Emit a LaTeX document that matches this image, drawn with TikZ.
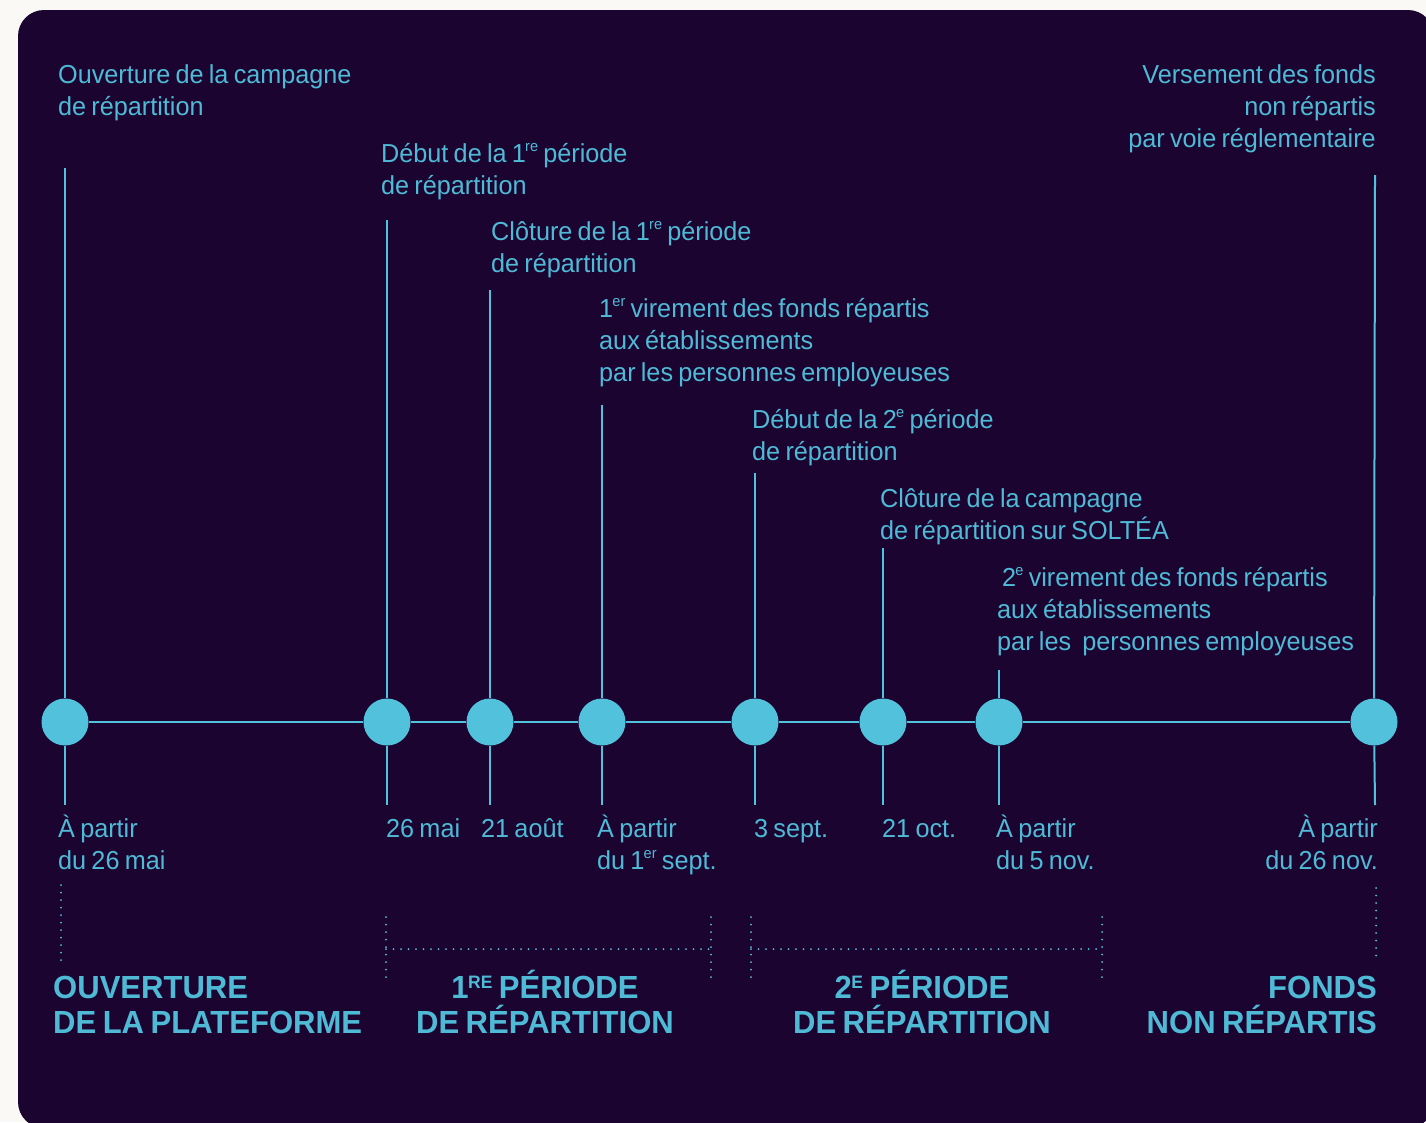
\documentclass[tikz,border=0pt]{standalone}
\usepackage{fontspec}
\setmainfont{Liberation Sans}[FakeStretch=0.97, WordSpace=0.75]
\definecolor{outerc}{HTML}{FAF9F5}
\definecolor{bgc}{HTML}{1B0430}
\definecolor{cyanc}{HTML}{52C1DB}
\definecolor{txtc}{HTML}{4FBAD6}
\newcommand\supx[1]{\kern-0.8pt\raisebox{10.5pt}{\fontsize{15}{15}\selectfont #1}}
\newcommand\supb[1]{\kern-0.5pt\raisebox{10pt}{\fontsize{18}{18}\selectfont #1}}
\tikzset{
  lbl/.style={text=txtc, font=\fontsize{26}{32}\selectfont, inner sep=0pt, align=left, anchor=base west},
  lblr/.style={lbl, align=right, anchor=base east},
  head/.style={text=txtc, font=\fontsize{32}{35}\selectfont\bfseries, inner sep=0pt},
  tick/.style={draw=cyanc, line width=2pt},
  axis/.style={draw=cyanc, line width=2.5pt},
  dotline/.style={draw=cyanc, line width=2pt, line cap=round, dash pattern=on 0pt off 7.5pt},
  dotnode/.style={circle, fill=cyanc, minimum size=47pt, inner sep=0pt}
}
\begin{document}
\begin{tikzpicture}[x=1pt,y=-1pt]
\useasboundingbox (0,0) rectangle (1426,1122);
\fill[outerc] (0,0) rectangle (1426,1122);
\fill[bgc, rounded corners=26pt] (18,10) rectangle (1434,1128);

% event dots
\node[dotnode] (c1) at (65,722) {};
\node[dotnode] (c2) at (387,722) {};
\node[dotnode] (c3) at (490,722) {};
\node[dotnode] (c4) at (602,722) {};
\node[dotnode] (c5) at (755,722) {};
\node[dotnode] (c6) at (883,722) {};
\node[dotnode] (c7) at (999,722) {};
\node[dotnode] (c8) at (1374,722) {};

% tick ends
\coordinate (u1) at (65,168);   \coordinate (d1) at (65,805);
\coordinate (u2) at (387,220);  \coordinate (d2) at (387,805);
\coordinate (u3) at (490,290);  \coordinate (d3) at (490,805);
\coordinate (u4) at (602,405);  \coordinate (d4) at (602,805);
\coordinate (u5) at (755,473);  \coordinate (d5) at (755,805);
\coordinate (u6) at (883,548);  \coordinate (d6) at (883,805);
\coordinate (u7) at (999,670);  \coordinate (d7) at (999,805);
\coordinate (u8) at (1375,175); \coordinate (d8) at (1375,805);

\draw[axis] (c1) -- (c2);
\draw[axis] (c2) -- (c3);
\draw[axis] (c3) -- (c4);
\draw[axis] (c4) -- (c5);
\draw[axis] (c5) -- (c6);
\draw[axis] (c6) -- (c7);
\draw[axis] (c7) -- (c8);
\foreach \i in {1,...,8}{
  \draw[tick] (c\i) -- (u\i);
  \draw[tick] (c\i) -- (d\i);
}

% top labels (anchored at the baseline of their last line)
\node[lbl] (e1) at (58,115) {Ouverture de la campagne\\de répartition};
\node[lbl] (e2) at (381,194) {Début de la 1\supx{re} période\\de répartition};
\node[lbl] (e3) at (491,272) {Clôture de la 1\supx{re} période\\de répartition};
\node[lbl] (e4) at (599,381) {1\supx{er} virement des fonds répartis\\aux établissements\\par les personnes employeuses};
\node[lbl] (e5) at (752,460) {Début de la 2\supx{e} période\\de répartition};
\node[lbl] (e6) at (880,539) {Clôture de la campagne\\de répartition sur SOLTÉA};
\node[lbl] (e7) at (997,650) {\hspace{5pt}2\supx{e} virement des fonds répartis\\aux établissements\\par les\hspace{6pt} personnes employeuses};
\node[lblr] (e8) at (1376,147) {Versement des fonds\\non répartis\\par voie réglementaire};

% date labels
\node[lbl] (f1) at (58,869) {À partir\\du 26 mai};
\node[lbl] (f2) at (386,837) {26 mai};
\node[lbl] (f3) at (481,837) {21 août};
\node[lbl] (f4) at (597,869) {À partir\\du 1\supx{er} sept.};
\node[lbl] (f5) at (754,837) {3 sept.};
\node[lbl] (f6) at (882,837) {21 oct.};
\node[lbl] (f7) at (996,869) {À partir\\du 5 nov.};
\node[lblr] (f8) at (1378,869) {À partir\\du 26 nov.};

% dotted brackets
\coordinate (p1a) at (61,885);   \coordinate (p1b) at (61,962);
\coordinate (p2a) at (386,917);  \coordinate (p2b) at (386,978);
\coordinate (p2c) at (711,917);  \coordinate (p2d) at (711,978);
\coordinate (p2m) at (386,949);  \coordinate (p2n) at (711,949);
\coordinate (p3a) at (751,917);  \coordinate (p3b) at (751,978);
\coordinate (p3c) at (1102,917); \coordinate (p3d) at (1102,978);
\coordinate (p3m) at (751,949);  \coordinate (p3n) at (1102,949);
\coordinate (p4a) at (1376,888); \coordinate (p4b) at (1376,962);
\draw[dotline] (p1a) -- (p1b);
\draw[dotline] (p2a) -- (p2b);
\draw[dotline] (p2c) -- (p2d);
\draw[dotline] (p2m) -- (p2n);
\draw[dotline] (p3a) -- (p3b);
\draw[dotline] (p3c) -- (p3d);
\draw[dotline] (p3m) -- (p3n);
\draw[dotline] (p4a) -- (p4b);

% headings
\node[head, align=left, anchor=base west] (h1) at (53,1033) {OUVERTURE\\DE LA PLATEFORME};
\node[head, align=center, anchor=base] (h2) at (545,1033) {1\supb{RE} PÉRIODE\\DE RÉPARTITION};
\node[head, align=center, anchor=base] (h3) at (922,1033) {2\supb{E} PÉRIODE\\DE RÉPARTITION};
\node[head, align=right, anchor=base east] (h4) at (1377,1033) {FONDS\\NON RÉPARTIS};
\end{tikzpicture}
\end{document}
